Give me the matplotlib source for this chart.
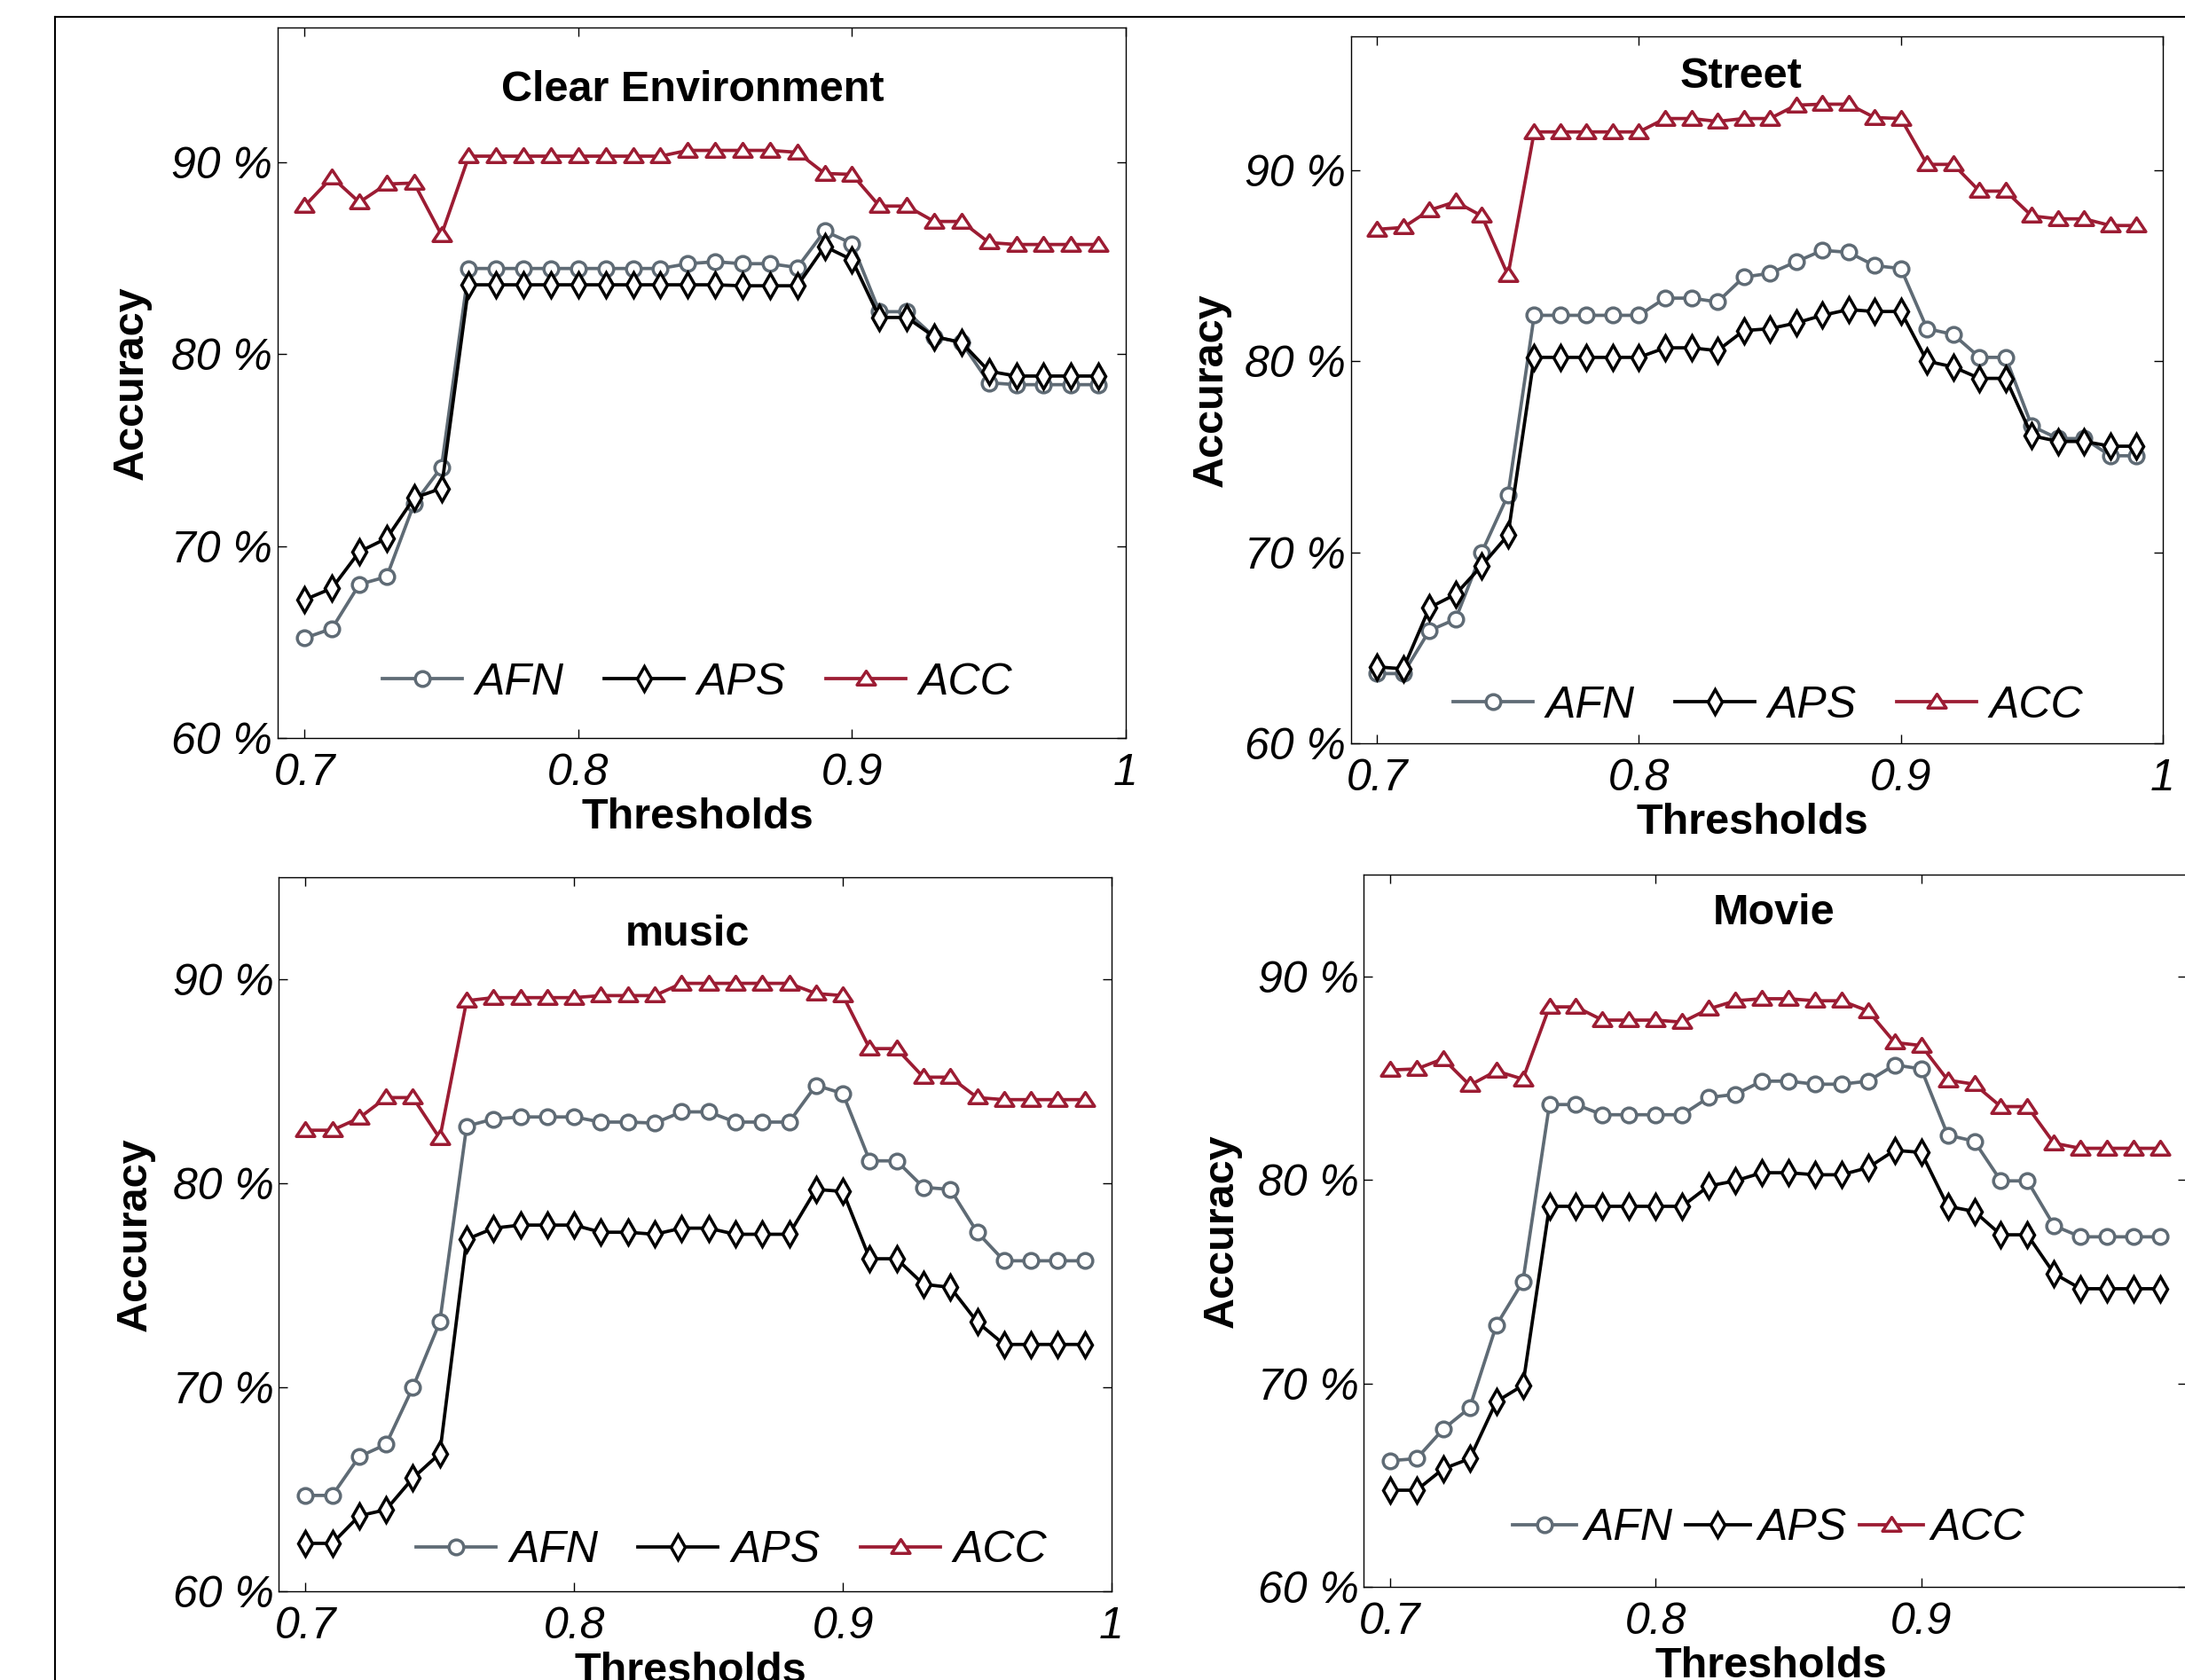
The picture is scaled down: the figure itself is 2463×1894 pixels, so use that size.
"""Accuracy vs threshold for four listening environments (2x2 panels)."""

import matplotlib

matplotlib.use("Agg")
import matplotlib.pyplot as plt
from matplotlib.lines import Line2D
from matplotlib.path import Path

plt.rcParams["font.family"] = ["Liberation Sans", "DejaVu Sans"]

THRESHOLDS = [0.70, 0.71, 0.72, 0.73, 0.74, 0.75, 0.76, 0.77, 0.78, 0.79,
              0.80, 0.81, 0.82, 0.83, 0.84, 0.85, 0.86, 0.87, 0.88, 0.89,
              0.90, 0.91, 0.92, 0.93, 0.94, 0.95, 0.96, 0.97, 0.98, 0.99]

CLEAR_AFN = [65.2, 65.7, 68.0, 68.4, 72.2, 74.1, 84.45, 84.45, 84.45, 84.45,
             84.45, 84.45, 84.45, 84.45, 84.7, 84.8, 84.7, 84.7, 84.5, 86.4,
             85.75, 82.2, 82.2, 80.9, 80.6, 78.5, 78.4, 78.4, 78.4, 78.4]
CLEAR_APS = [67.2, 67.8, 69.7, 70.4, 72.5, 73.0, 83.6, 83.6, 83.6, 83.6,
             83.6, 83.6, 83.6, 83.6, 83.6, 83.6, 83.55, 83.55, 83.55, 85.6,
             84.9, 81.9, 81.9, 80.9, 80.6, 79.1, 78.85, 78.85, 78.85, 78.85]
CLEAR_ACC = [87.7, 89.2, 87.9, 88.85, 88.9, 86.2, 90.3, 90.3, 90.3, 90.3,
             90.3, 90.3, 90.3, 90.3, 90.6, 90.6, 90.6, 90.6, 90.5, 89.4,
             89.35, 87.7, 87.7, 86.9, 86.9, 85.8, 85.7, 85.7, 85.7, 85.7]

STREET_AFN = [63.65, 63.65, 65.9, 66.5, 70.0, 73.0, 82.4, 82.4, 82.4, 82.4,
              82.4, 83.3, 83.3, 83.1, 84.4, 84.6, 85.2, 85.8, 85.7, 85.0,
              84.85, 81.7, 81.4, 80.2, 80.2, 76.6, 75.95, 75.95, 75.05, 75.05]
STREET_APS = [64.0, 63.9, 67.1, 67.8, 69.3, 70.9, 80.2, 80.2, 80.2, 80.2,
              80.2, 80.7, 80.7, 80.55, 81.6, 81.7, 82.0, 82.4, 82.7, 82.6,
              82.6, 80.0, 79.7, 79.1, 79.1, 76.1, 75.8, 75.8, 75.55, 75.55]
STREET_ACC = [86.9, 87.0, 87.9, 88.35, 87.6, 84.5, 92.0, 92.0, 92.0, 92.0,
              92.0, 92.7, 92.7, 92.55, 92.7, 92.7, 93.4, 93.45, 93.45, 92.75,
              92.7, 90.3, 90.3, 88.9, 88.9, 87.6, 87.45, 87.45, 87.1, 87.1]

MUSIC_AFN = [64.7, 64.7, 66.6, 67.2, 70.0, 73.2, 82.8, 83.15, 83.25, 83.25,
             83.25, 83.0, 83.0, 82.95, 83.5, 83.5, 83.0, 83.0, 83.0, 84.8,
             84.4, 81.1, 81.1, 79.8, 79.7, 77.6, 76.2, 76.2, 76.2, 76.2]
MUSIC_APS = [62.35, 62.35, 63.7, 64.0, 65.55, 66.75, 77.25, 77.8, 77.95, 77.95,
             77.95, 77.6, 77.6, 77.5, 77.8, 77.8, 77.5, 77.5, 77.5, 79.7,
             79.6, 76.3, 76.3, 75.05, 74.9, 73.2, 72.1, 72.1, 72.1, 72.1]
MUSIC_ACC = [82.6, 82.6, 83.2, 84.2, 84.2, 82.2, 88.95, 89.1, 89.1, 89.1,
             89.1, 89.2, 89.2, 89.2, 89.8, 89.8, 89.8, 89.8, 89.8, 89.3,
             89.2, 86.6, 86.6, 85.2, 85.2, 84.2, 84.1, 84.1, 84.1, 84.1]

MOVIE_AFN = [66.2, 66.3, 67.75, 68.8, 72.85, 75.0, 83.7, 83.7, 83.2, 83.2,
             83.2, 83.2, 84.05, 84.2, 84.85, 84.85, 84.7, 84.7, 84.85, 85.65,
             85.45, 82.2, 81.9, 79.95, 79.95, 77.75, 77.2, 77.2, 77.2, 77.2]
MOVIE_APS = [64.75, 64.75, 65.8, 66.3, 69.1, 69.9, 78.7, 78.7, 78.7, 78.7,
             78.7, 78.7, 79.7, 79.95, 80.35, 80.35, 80.25, 80.25, 80.6, 81.45,
             81.35, 78.7, 78.45, 77.3, 77.3, 75.4, 74.65, 74.65, 74.65, 74.65]
MOVIE_ACC = [85.4, 85.45, 85.95, 84.65, 85.35, 84.95, 88.5, 88.5, 87.85, 87.85,
             87.85, 87.75, 88.4, 88.8, 88.9, 88.9, 88.8, 88.8, 88.3, 86.75,
             86.6, 84.9, 84.7, 83.6, 83.6, 81.8, 81.55, 81.55, 81.55, 81.55]

SERIES_NAMES = ["AFN", "APS", "ACC"]
Y_TICKS = [60, 70, 80, 90]
X_TICKS = [0.7, 0.8, 0.9, 1.0]
X_TICK_LABELS = ["0.7", "0.8", "0.9", "1"]
# the Movie panel runs off the right edge, its "1" label is not shown
X_TICK_LABELS_CUT = ["0.7", "0.8", "0.9", ""]

COLORS = {"AFN": "#5f6b75", "APS": "#000000", "ACC": "#9c1c33"}

# flat triangle (wider than tall), as in the original MATLAB export
TRI = Path([(-1.0, -0.65), (1.0, -0.65), (0.0, 0.85), (-1.0, -0.65)],
           [Path.MOVETO, Path.LINETO, Path.LINETO, Path.CLOSEPOLY])
MARKERS = {"AFN": ("o", 12), "APS": ("d", 14), "ACC": (TRI, 15)}

W, H = 2463, 1894
FS = 36


def px_rect(left, top, right, bottom):
    """Axes rect from pixel edges (origin top-left)."""
    return [left / W, (H - bottom) / H, (right - left) / W, (bottom - top) / H]


# panel specs: title, data, ylim top, axes px box, title pos, legend pos/spacing, xtick labels
PANELS = [
    ("Clear Environment", (CLEAR_AFN, CLEAR_APS, CLEAR_ACC), 97,
     (312.5, 31, 1269, 832), (0.49, 0.912), (0.495, 0.078), (1.8, 0.3, 0.9),
     X_TICK_LABELS),
    ("Street", (STREET_AFN, STREET_APS, STREET_ACC), 97,
     (1522.7, 41, 2438, 838), (0.481, 0.943), (0.514, 0.053), (1.8, 0.3, 0.9),
     X_TICK_LABELS),
    ("music", (MUSIC_AFN, MUSIC_APS, MUSIC_ACC), 95,
     (314, 989, 1253, 1794), (0.491, 0.92), (0.544, 0.057), (1.8, 0.3, 0.9),
     X_TICK_LABELS),
    ("Movie", (MOVIE_AFN, MOVIE_APS, MOVIE_ACC), 95,
     (1537, 986, 2465, 1789), (0.498, 0.946), (0.492, 0.082), (1.45, 0.17, 0.29),
     X_TICK_LABELS_CUT),
]


def draw_panel(fig, spec):
    title, data, ytop, box, tpos, lpos, (hl, htp, cs), xlabels = spec
    ax = fig.add_axes(px_rect(*box))
    for name, values in zip(SERIES_NAMES, data):
        marker, ms = MARKERS[name]
        ax.plot(THRESHOLDS, values, color=COLORS[name], lw=2.7,
                marker=marker, ms=ms, mfc="white", mec=COLORS[name],
                mew=2.5, label=name)

    ax.set_xlim(0.69, 1.0)
    ax.set_ylim(60, ytop)
    ax.set_xticks(X_TICKS)
    ax.set_xticklabels(xlabels, fontsize=FS, style="italic")
    ax.set_yticks(Y_TICKS)
    ax.set_yticklabels([f"{v} %" for v in Y_TICKS], fontsize=FS, style="italic")
    ax.tick_params(direction="in", length=7, width=1.0, top=True, right=True)
    ax.tick_params(axis="x", pad=12)
    ax.tick_params(axis="y", pad=4)
    for sp in ax.spines.values():
        sp.set_linewidth(1.0)

    ax.text(tpos[0], tpos[1], title, transform=ax.transAxes, ha="center",
            va="center", fontsize=FS - 1, fontweight="bold")
    ax.set_xlabel("Thresholds", fontsize=FS - 1, fontweight="bold")
    ax.xaxis.set_label_coords(0.495, -0.112)
    ax.xaxis.label.set_va("center")
    ax.set_ylabel("Accuracy", fontsize=FS - 1, fontweight="bold")
    ax.yaxis.set_label_coords(-0.172, 0.5)
    ax.yaxis.label.set_va("center")

    ax.legend(loc="center", bbox_to_anchor=lpos, ncol=3, frameon=False,
              prop={"size": FS, "style": "italic"}, handlelength=hl,
              handletextpad=htp, columnspacing=cs, borderpad=0.2)
    return ax


fig = plt.figure(figsize=(W / 100, H / 100), dpi=100)

# outer frame around the panels (top and left edges visible)
fig.add_artist(Line2D([62 / W, 1.0], [1 - 19 / H, 1 - 19 / H],
                      transform=fig.transFigure, color="black", lw=1.5))
fig.add_artist(Line2D([62 / W, 62 / W], [0.0, 1 - 19 / H],
                      transform=fig.transFigure, color="black", lw=1.5))

for spec in PANELS:
    draw_panel(fig, spec)

fig.savefig("out.png", dpi=100)
